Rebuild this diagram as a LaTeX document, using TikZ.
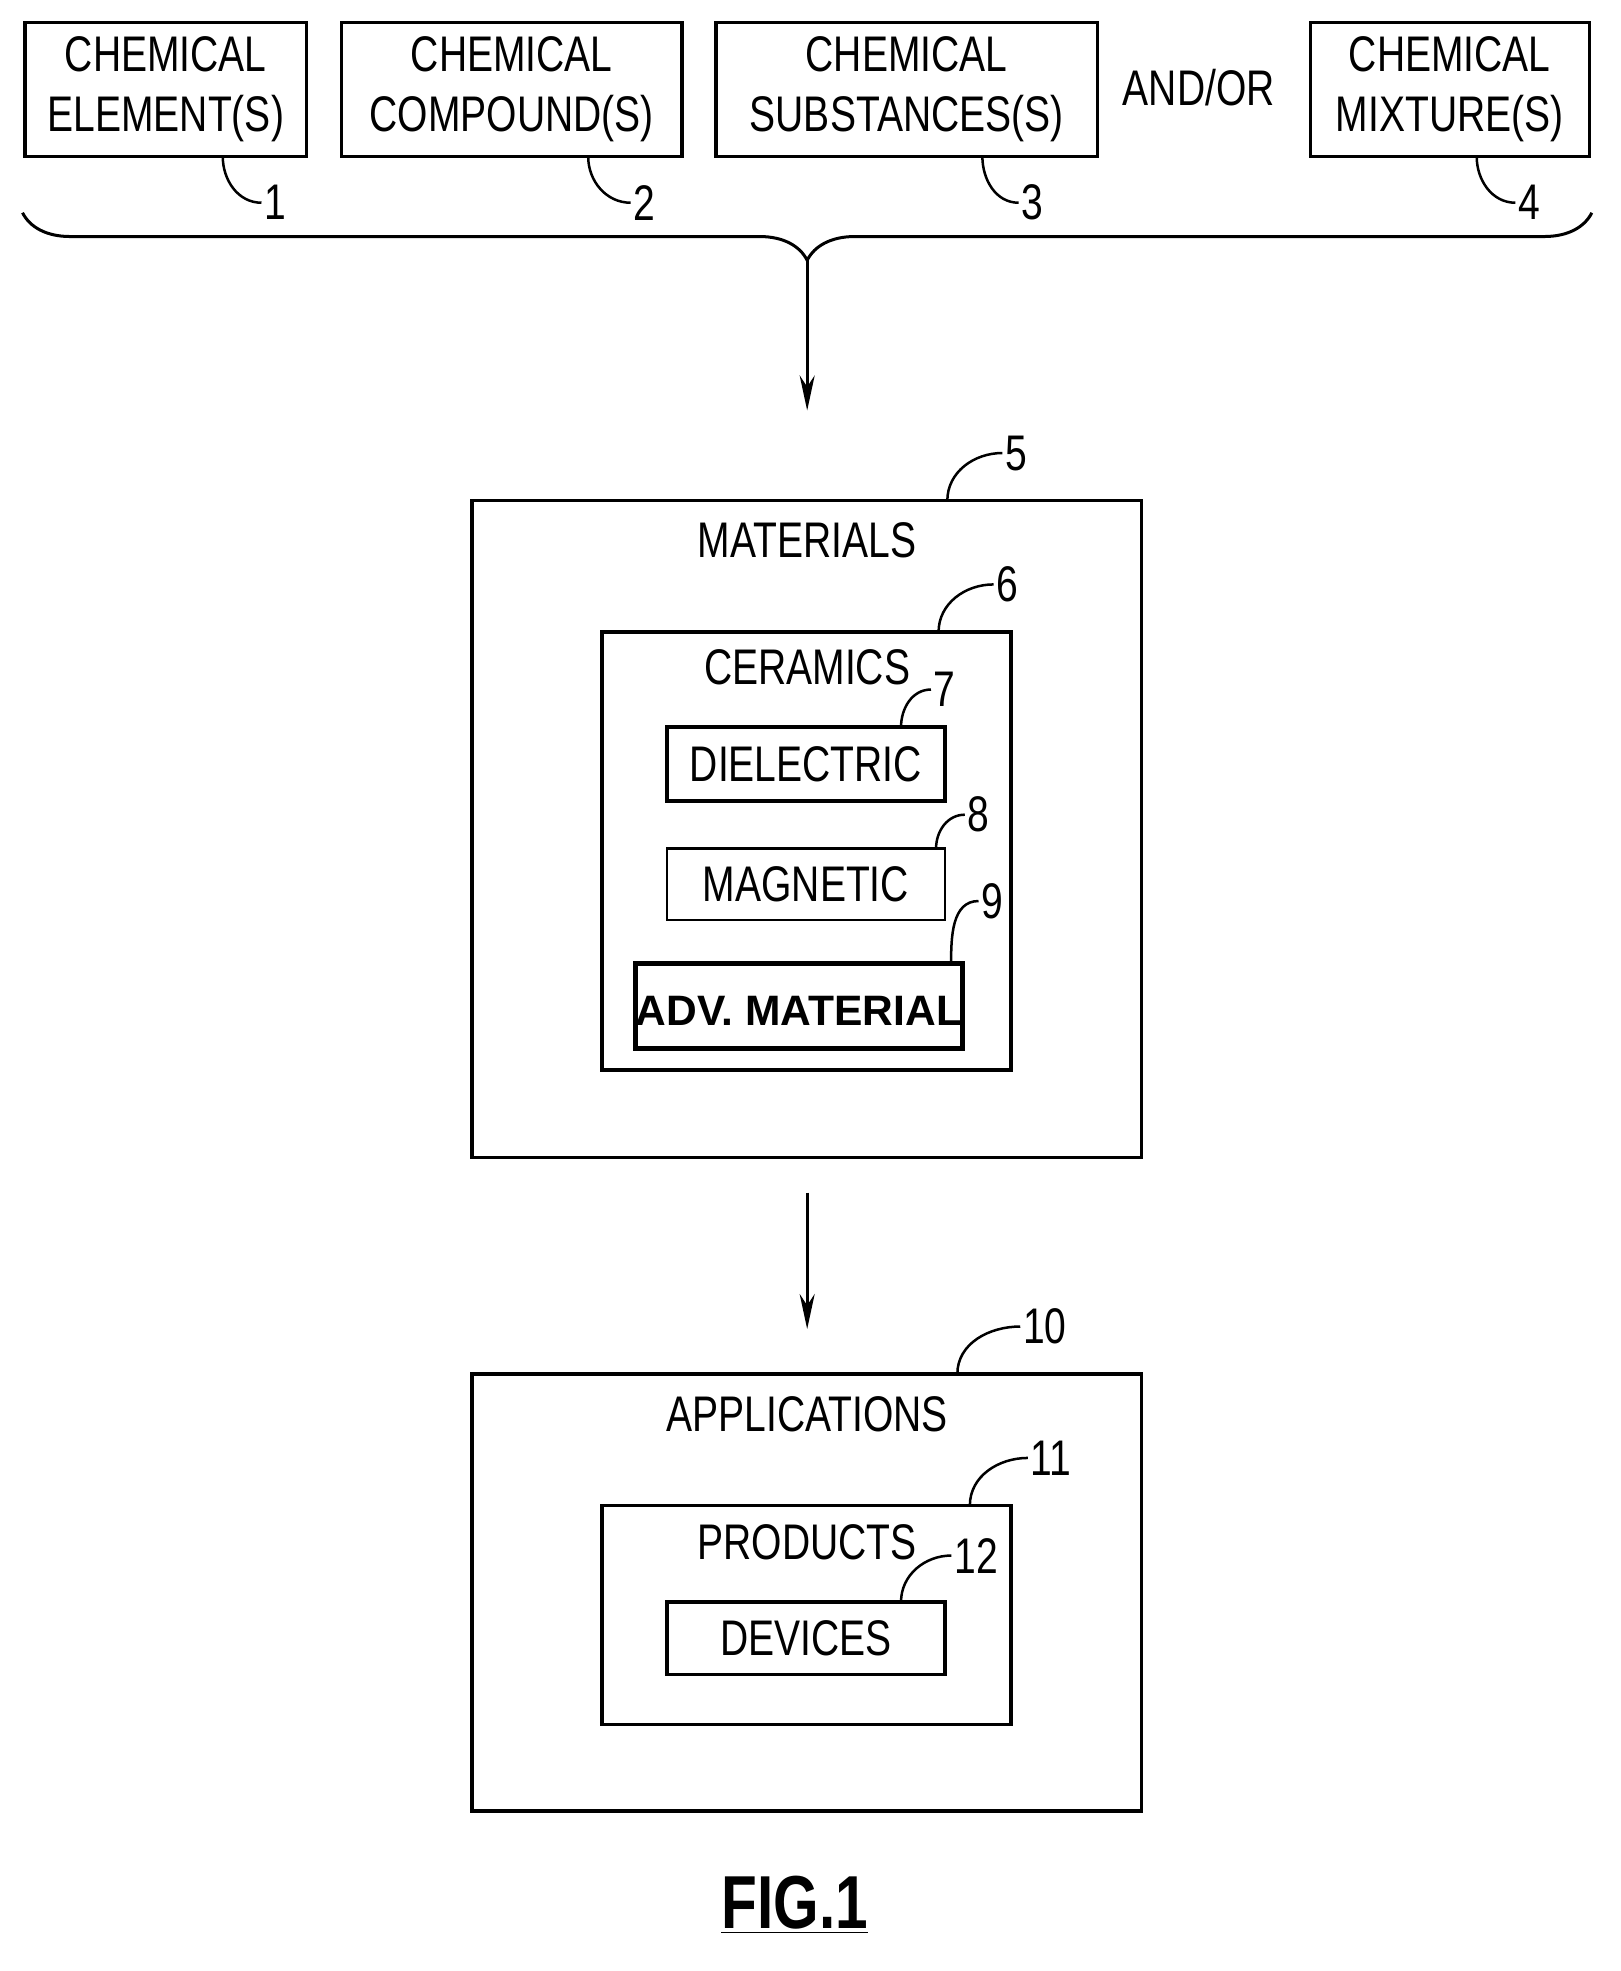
\documentclass[tikz,border=0pt]{standalone}
\usepackage{fontspec}
\setsansfont{Liberation Sans}[FakeStretch=0.78]
\newfontfamily\widefont{Liberation Sans}
\usetikzlibrary{fit,arrows.meta,decorations.pathreplacing}

\begin{document}
\begin{tikzpicture}[
    x=0.5pt, y=-0.5pt,
    box/.style={draw, line width=1.4pt, inner sep=0pt},
    txt/.style={align=center, inner sep=0pt,
      font=\sffamily\fontsize{20}{24}\selectfont},
    ref/.style={font=\sffamily\fontsize{20}{22}\selectfont, inner sep=1pt},
    lead/.style={line width=1pt},
    flow/.style={line width=1.2pt, -{Stealth[length=14pt,width=6pt]}}
  ]
  \useasboundingbox (0,0) rectangle (1295,1575);

  % starting substances
  \node[box, fit={(20,18) (245,125)}] (elem) {};
  \node[txt] at (elem.center) {CHEMICAL\\ ELEMENT(S)};
  \node[box, fit={(273,18) (545,125)}] (comp) {};
  \node[txt] at (comp.center) {CHEMICAL\\ COMPOUND(S)};
  \node[box, fit={(572,18) (877,125)}] (subst) {};
  \node[txt] at (subst.center) {CHEMICAL\\ SUBSTANCES(S)};
  \node[txt] (andor) at (958,70) {AND/OR};
  \node[box, fit={(1047,18) (1270,125)}] (mix) {};
  \node[txt] at (mix.center) {CHEMICAL\\ MIXTURE(S)};

  \node[ref] (r1) at (220,162) {1};
  \node[ref] (r2) at (515,162) {2};
  \node[ref] (r3) at (825,162) {3};
  \node[ref] (r4) at (1222,162) {4};
  \coordinate (c1) at (178,125);
  \coordinate (c2) at (470,125);
  \coordinate (c3) at (785,125);
  \coordinate (c4) at (1180,125);
  \foreach \i in {1,...,4}
    \draw[lead] (c\i) to[out=-90,in=180] (r\i.west);

  \draw[line width=1.2pt, decorate,
    decoration={brace, mirror, amplitude=19pt, raise=0pt}]
    (18,170) -- (1272,170);
  \coordinate (tip) at (645,208);

  % materials
  \node[box, fit={(377,400) (912,925)}] (mat) {};
  \node[txt] (matt) at (645,432) {MATERIALS};
  \node[box, fit={(481,505) (808,855)}] (cer) {};
  \node[txt] (cert) at (645,533) {CERAMICS};
  \node[box, fit={(533,581) (755,640)}] (diel) {};
  \node[txt] at (diel.center) {DIELECTRIC};
  \node[box, fit={(533,678) (755,735)}, line width=1pt] (magn) {};
  \node[txt] at (magn.center) {MAGNETIC};
  \node[box, fit={(508,770) (769,838)}, line width=2pt] (adv) {};
  \node[txt, font=\widefont\bfseries\fontsize{17}{20}\selectfont]
    at ([yshift=-2pt]adv.center) {ADV. MATERIAL};

  \node[ref] (r5) at (812,362) {5};
  \node[ref] (r6) at (805,467) {6};
  \node[ref] (r7) at (755,551) {7};
  \node[ref] (r8) at (782,651) {8};
  \node[ref] (r9) at (793,720) {9};
  \draw[lead] (757,400) to[out=90,in=180] (r5.west);
  \draw[lead] (750,505) to[out=90,in=180] (r6.west);
  \draw[lead] (720,581) to[out=90,in=180] (r7.west);
  \draw[lead] (748,678) to[out=90,in=180] (r8.west);
  \draw[lead] (760,770) to[out=90,in=180] (r9.west);

  % applications
  \node[box, fit={(377,1098) (912,1447)}] (app) {};
  \node[txt] (appt) at (645,1130) {APPLICATIONS};
  \node[box, fit={(481,1203) (808,1378)}] (prod) {};
  \node[txt] (prodt) at (645,1232) {PRODUCTS};
  \node[box, fit={(533,1280) (755,1338)}] (dev) {};
  \node[txt] at (dev.center) {DEVICES};

  \node[ref] (r10) at (835,1060) {10};
  \node[ref] (r11) at (840,1165) {11};
  \node[ref] (r12) at (780,1243) {12};
  \draw[lead] (765,1098) to[out=90,in=180] (r10.west);
  \draw[lead] (775,1203) to[out=90,in=180] (r11.west);
  \draw[lead] (720,1280) to[out=90,in=180] (r12.west);

  \coordinate (a1) at (645,328);
  \coordinate (a2s) at (645,953);
  \coordinate (a2e) at (645,1062);
  \draw[flow] (tip) -- (a1);
  \draw[flow] (a2s) -- (a2e);

  \node[font=\sffamily\bfseries\fontsize{30}{32}\selectfont] (fig) at (635,1522)
    {\underline{FIG.1}};
\end{tikzpicture}
\end{document}
